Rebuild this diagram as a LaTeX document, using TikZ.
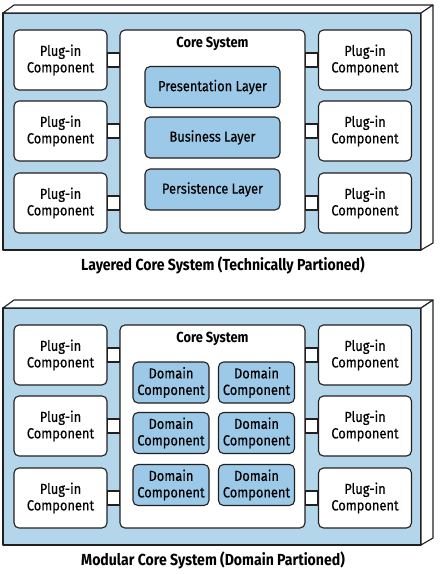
\documentclass[tikz,border=0pt]{standalone}
\usepackage{fontspec}
\setmainfont{Fira Sans}[FakeStretch=0.88,UprightFeatures={FakeBold=0.4}]
\usetikzlibrary{calc}
\definecolor{faceblue}{HTML}{B4D6EB}
\definecolor{layerblue}{HTML}{9CC9E8}
\definecolor{edge}{HTML}{231F20}
\begin{document}
\begin{tikzpicture}[x=1pt,y=-1pt,
  box/.style={draw=edge,line width=1.1pt,rounded corners=5pt,fill=white,align=center,inner sep=0pt,font=\fontsize{14.6}{16.5}\selectfont},
  plugin/.style={box,minimum width=93pt,minimum height=60pt},
  corebox/.style={box,minimum width=185pt,minimum height=203pt},
  layerbox/.style={box,fill=layerblue,minimum width=135pt,minimum height=41pt},
  dombox/.style={box,fill=layerblue,minimum width=76pt,minimum height=41pt},
  link/.style={draw=edge,line width=1.1pt,fill=white},
  boxface/.style={draw=edge,line width=1.1pt,line join=round},
  coretitle/.style={font=\bfseries\fontsize{14.6}{16}\selectfont,inner sep=0pt},
  capline/.style={font=\bfseries\fontsize{16}{18}\selectfont,anchor=west,inner sep=0pt}]
\useasboundingbox (0,0) rectangle (442,574);
\foreach \dy/\k in {0/a,295/b}{
  % box in 3D
  \draw[boxface,fill=faceblue] (3,13+\dy) rectangle (421,250+\dy);
  \draw[boxface,fill=white] (3,13+\dy) -- (14,5+\dy) -- (433,5+\dy) -- (421,13+\dy) -- cycle;
  \draw[boxface,fill=white] (421,13+\dy) -- (433,5+\dy) -- (433,243+\dy) -- (421,250+\dy) -- cycle;
  \node[corebox] (core-\k) at (212.5,131.5+\dy) {};
  \node[coretitle] (title-\k) at ([yshift=-14pt]core-\k.north) {Core System};
  \foreach \y [count=\i] in {60,131,203}{
    \node[plugin] (pl-\k-l\i) at (60.5,\y+\dy) {Plug-in\\Component};
    \node[plugin] (pl-\k-r\i) at (365,\y+\dy) {Plug-in\\Component};
    \draw[link] ($(pl-\k-l\i.east)+(0,-7)$) rectangle ($(pl-\k-l\i.east -| core-\k.west)+(0,7)$);
    \draw[link] ($(pl-\k-r\i.west)+(0,-7)$) rectangle ($(pl-\k-r\i.west -| core-\k.east)+(0,7)$);
  }
}
% layered core
\node[layerbox] (pres) at (212.5,87) {Presentation Layer};
\node[layerbox] (busi) at (212.5,137.5) {Business Layer};
\node[layerbox] (pers) at (212.5,189.5) {Persistence Layer};
\node[capline] (cap-a) at (81,265) {Layered Core System (Technically Partioned)};
% modular core
\foreach \y [count=\i] in {382.5,433,485}{
  \node[dombox] (dom-l\i) at (171,\y) {Domain\\Component};
  \node[dombox] (dom-r\i) at (256.5,\y) {Domain\\Component};
}
\node[capline] (cap-b) at (81,560) {Modular Core System (Domain Partioned)};
\end{tikzpicture}
\end{document}
